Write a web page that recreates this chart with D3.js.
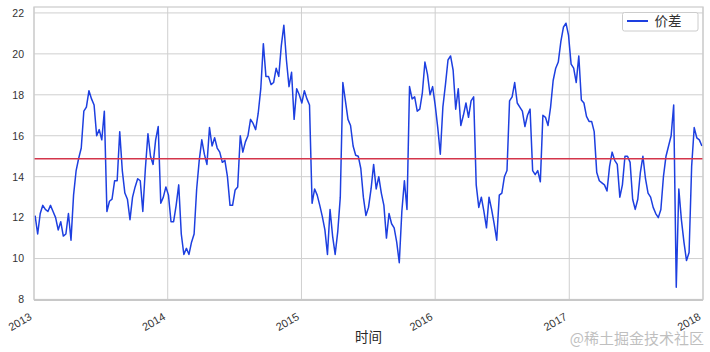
<!DOCTYPE html>
<html>
<head>
<meta charset="utf-8">
<script src="https://cdn.jsdelivr.net/npm/d3@7"></script>
<style>
  html, body { margin: 0; padding: 0; background: #fff; }
  svg { display: block; }
</style>
</head>
<body>
<svg id="spread-chart"></svg>
<script>
// weekly spread values, one per Friday starting 2013-01-04
const startDate = "2013-01-04";
const spread = [
    12.1, 11.2, 12.2, 12.6, 12.4, 12.3, 12.6, 12.3, 12.0, 11.4,
    11.8, 11.1, 11.2, 12.2, 10.9, 13.1, 14.3, 14.9, 15.4, 17.2,
    17.4, 18.2, 17.8, 17.5, 16.0, 16.3, 15.8, 17.2, 12.3, 12.8,
    12.9, 13.8, 13.8, 16.2, 14.3, 13.2, 12.9, 11.9, 13.0, 13.5,
    13.9, 13.8, 12.3, 14.4, 16.1, 15.0, 14.6, 15.8, 16.45, 12.7,
    13.0, 13.5, 13.1, 11.8, 11.8, 12.6, 13.6, 11.2, 10.2, 10.5,
    10.2, 10.8, 11.2, 13.4, 14.8, 15.8, 15.1, 14.6, 16.4, 15.5,
    15.9, 15.4, 15.2, 14.7, 14.8, 14.0, 12.6, 12.6, 13.35, 13.5,
    16.0, 15.2, 15.7, 16.0, 16.8, 16.6, 16.3, 17.1, 18.3, 20.5,
    18.9, 18.9, 18.5, 18.6, 19.3, 18.9, 20.4, 21.4, 19.7, 18.4,
    19.1, 16.8, 18.3, 18.0, 17.6, 18.2, 17.8, 17.5, 12.7, 13.4,
    13.1, 12.6, 12.05, 11.4, 10.2, 12.4, 11.1, 10.2, 11.3, 13.0,
    18.6, 17.7, 16.8, 16.5, 15.5, 15.05, 15.0, 14.4, 13.0, 12.1,
    12.5, 13.4, 14.6, 13.4, 14.0, 13.2, 12.6, 11.0, 12.2, 11.7,
    11.5, 10.8, 9.8, 12.3, 13.8, 12.4, 18.4, 17.8, 17.9, 17.2,
    17.3, 18.1, 19.6, 19.0, 18.0, 18.4, 17.5, 16.4, 15.1, 17.4,
    18.5, 19.7, 19.9, 19.2, 17.3, 18.3, 16.5, 17.0, 17.6, 16.9,
    17.7, 17.9, 13.6, 12.5, 13.0, 12.3, 11.5, 13.0, 12.4, 11.7,
    10.9, 13.1, 13.2, 14.0, 14.3, 17.7, 17.9, 18.6, 17.6, 17.4,
    17.2, 16.45, 17.0, 17.3, 14.3, 14.1, 14.3, 13.75, 17.0, 16.9,
    16.5, 17.4, 18.7, 19.3, 19.6, 20.6, 21.3, 21.5, 20.9, 19.5,
    19.3, 18.6, 19.9, 17.75, 17.6, 16.95, 16.7, 16.7, 16.2, 14.2,
    13.8, 13.7, 13.6, 13.3, 14.5, 15.2, 14.8, 14.6, 13.0, 13.6,
    15.0, 15.0, 14.7, 12.9, 12.4, 12.9, 14.2, 15.0, 13.9, 13.2,
    13.0, 12.5, 12.2, 12.0, 12.4, 14.0, 15.0, 15.5, 16.0, 17.5,
    8.6, 13.4, 11.9, 10.8, 9.9, 10.3, 14.5, 16.4, 15.9, 15.8, 15.5
];
const meanSpread = 14.88;
const yTicks = [8, 10, 12, 14, 16, 18, 20, 22];
const xDomain = ["2013-01-01", "2018-01-01"];
const yDomain = [8, 22.29];
const legendLabel = "价差";
const xLabel = "时间";
const watermark = "@稀土掘金技术社区";

const svgWidth = 710;
const svgHeight = 352;
const margin = { top: 7, right: 7, bottom: 52.5, left: 34 };

const lineColor = "#1d3fe0";
const meanColor = "#d4354b";
const gridColor = "#cfcfcf";
const textColor = "#333333";
const latinFont = "'Liberation Sans', Arial, sans-serif";
const cjkFont = "'Noto Sans CJK SC', 'Liberation Sans', sans-serif";

const parseDate = d3.timeParse("%Y-%m-%d");

const xScale = d3.scaleTime()
    .domain(xDomain.map(parseDate))
    .range([margin.left, svgWidth - margin.right]);

const yScale = d3.scaleLinear()
    .domain(yDomain)
    .range([svgHeight - margin.bottom, margin.top]);

function drawSpread() {
    const start = parseDate(startDate);
    const data = spread.map((v, i) => ({ date: d3.timeDay.offset(start, 7 * i), value: v }));

    const svg = d3.select("#spread-chart")
        .attr("width", svgWidth)
        .attr("height", svgHeight);

    const x0 = margin.left, x1 = svgWidth - margin.right;
    const y0 = margin.top, y1 = svgHeight - margin.bottom;

    svg.append("clipPath").attr("id", "plot-clip")
        .append("rect")
        .attr("x", x0).attr("y", y0)
        .attr("width", x1 - x0).attr("height", y1 - y0);

    // grid
    const xTicks = d3.timeYear.range(parseDate("2013-01-01"), parseDate("2018-01-02"));
    svg.append("g")
        .selectAll("line.vg")
        .data(xTicks)
        .join("line")
        .attr("x1", d => xScale(d)).attr("x2", d => xScale(d))
        .attr("y1", y0).attr("y2", y1)
        .attr("stroke", gridColor).attr("stroke-width", 1);

    svg.append("g")
        .selectAll("line.hg")
        .data(yTicks)
        .join("line")
        .attr("x1", x0).attr("x2", x1)
        .attr("y1", d => yScale(d)).attr("y2", d => yScale(d))
        .attr("stroke", gridColor).attr("stroke-width", 1);

    // series
    const line = d3.line()
        .x(d => xScale(d.date))
        .y(d => yScale(d.value));

    svg.append("path")
        .datum(data)
        .attr("clip-path", "url(#plot-clip)")
        .attr("fill", "none")
        .attr("stroke", lineColor)
        .attr("stroke-width", 1.5)
        .attr("stroke-linejoin", "round")
        .attr("d", line);

    svg.append("line")
        .attr("x1", x0).attr("x2", x1)
        .attr("y1", yScale(meanSpread)).attr("y2", yScale(meanSpread))
        .attr("stroke", meanColor)
        .attr("stroke-width", 1.5);

    // frame
    svg.append("rect")
        .attr("x", x0).attr("y", y0)
        .attr("width", x1 - x0).attr("height", y1 - y0)
        .attr("fill", "none")
        .attr("stroke", "#cccccc")
        .attr("stroke-width", 1.25);
    svg.append("line")
        .attr("x1", x0).attr("x2", x1)
        .attr("y1", y1 + 0.5).attr("y2", y1 + 0.5)
        .attr("stroke", "#c8c8c8")
        .attr("stroke-width", 2);

    // y axis labels
    const yAxis = svg.append("g")
        .attr("transform", `translate(${x0},0)`)
        .call(d3.axisLeft(yScale).tickValues(yTicks).tickSize(0).tickPadding(10));
    yAxis.select(".domain").remove();
    yAxis.selectAll("text")
        .attr("fill", textColor)
        .style("font-family", latinFont)
        .style("font-size", "10.5px");

    // x axis labels, rotated
    const xAxis = svg.append("g")
        .attr("transform", `translate(0,${y1})`)
        .call(d3.axisBottom(xScale).tickValues(xTicks).tickFormat(d3.timeFormat("%Y")).tickSize(0));
    xAxis.select(".domain").remove();
    xAxis.selectAll("text")
        .attr("fill", textColor)
        .style("font-family", latinFont)
        .style("font-size", "11px")
        .attr("text-anchor", "end")
        .attr("dy", null)
        .attr("y", null)
        .attr("transform", "translate(-2,19.5) rotate(-30)");

    svg.append("text")
        .attr("x", (x0 + x1) / 2)
        .attr("y", 342)
        .attr("text-anchor", "middle")
        .attr("fill", "#262626")
        .style("font-family", cjkFont)
        .style("font-size", "13.5px")
        .text(xLabel);

    // legend
    const legend = svg.append("g").attr("transform", "translate(622.5,12.5)");
    legend.append("rect")
        .attr("width", 75.5).attr("height", 18.5)
        .attr("rx", 2)
        .attr("fill", "#ffffff")
        .attr("stroke", "#cccccc")
        .attr("stroke-width", 1);
    legend.append("line")
        .attr("x1", 4.5).attr("x2", 25.5)
        .attr("y1", 8.5).attr("y2", 8.5)
        .attr("stroke", lineColor)
        .attr("stroke-width", 2);
    legend.append("text")
        .attr("x", 32).attr("y", 13.5)
        .attr("fill", textColor)
        .style("font-family", cjkFont)
        .style("font-size", "13.5px")
        .text(legendLabel);

    // watermark
    svg.append("text")
        .attr("x", 704).attr("y", 344)
        .attr("text-anchor", "end")
        .attr("fill", "#bfbfbf")
        .style("font-family", cjkFont)
        .style("font-size", "15px")
        .text(watermark);
}

document.addEventListener("DOMContentLoaded", drawSpread);
</script>
</body>
</html>
